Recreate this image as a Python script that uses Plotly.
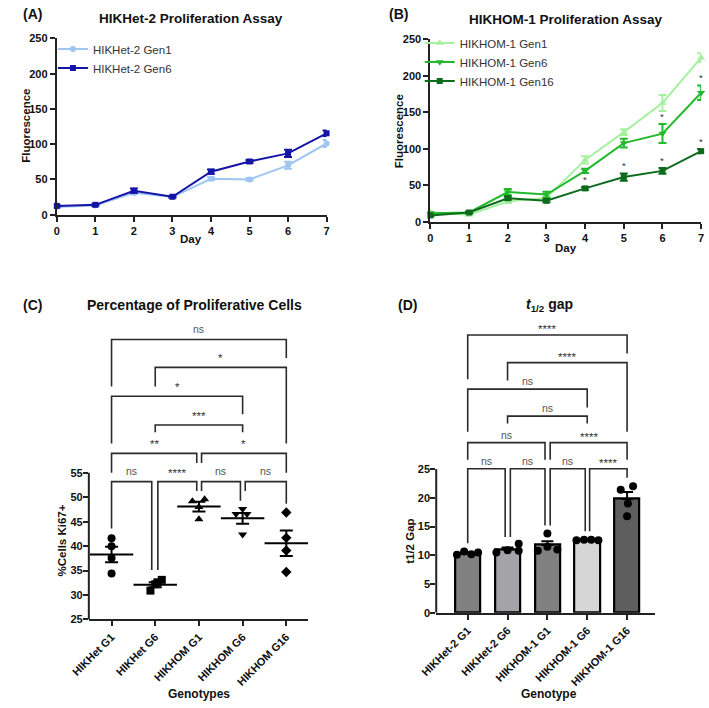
import plotly.graph_objects as go

W, H = 709, 708
FONT = "Arial, 'Liberation Sans', Helvetica, sans-serif"
INK = "#222222"

# ---------------- data ----------------
days = [0, 1, 2, 3, 4, 5, 6, 7]
het_gen1 = [11, 13, 31, 25, 51, 50, 70, 101]
het_gen1_err = [1, 1, 2, 1, 2, 2, 5, 5]
het_gen6 = [12.5, 14, 34, 25.5, 61, 75.5, 87, 115.5]
het_gen6_err = [1, 1, 3, 1, 3, 2, 5, 4]

hom_gen1 = [13, 10, 28, 33, 85, 123, 163, 225]
hom_gen1_err = [1, 1, 2, 2, 5, 4, 11, 6]
hom_gen6 = [12, 13, 41, 37.5, 70, 108, 121, 177]
hom_gen6_err = [1, 1, 4, 4, 3, 6, 13, 10]
hom_gen16 = [9, 13, 32.5, 29, 46, 61.5, 70, 97]
hom_gen16_err = [1, 1, 2, 2, 2, 5, 4, 3]
star_gen16_days = [4, 5, 6, 7]
star_gen6_days = [6, 7]

c_labels = ["HIKHet G1", "HIKHet G6", "HIKHOM G1", "HIKHOM G6", "HIKHOM G16"]
c_points = [[41.6, 40.0, 37.6, 34.4],
            [30.9, 32.2, 32.6, 33.1],
            [49.2, 49.6, 48.0, 45.5],
            [47.6, 46.6, 46.6, 42.4],
            [46.9, 41.7, 39.1, 34.7]]
c_offsets = [[0, 0, 0, 0],
             [-0.11, 0, 0.05, 0.15],
             [-0.15, 0.13, 0, 0],
             [0, -0.15, 0.1, 0],
             [0, 0, 0, 0]]
c_mean = [38.3, 32.1, 48.1, 45.7, 40.6]
c_sem = [1.6, 0.5, 1.0, 1.1, 2.6]
c_symbols = ["circle", "square", "triangle-up", "triangle-down", "diamond"]
# brackets: x0, x1, level, left leg bottom, right leg bottom, label
c_brackets = [
    (0, 0.92, 53.2, 43.6, 35.1, "ns"),
    (1.06, 1.95, 53.2, 35.1, 51.3, "****"),
    (2.06, 2.95, 53.2, 51.3, 49.3, "ns"),
    (3.06, 4.0, 53.2, 51.3, 48.7, "ns"),
    (0, 1.95, 59.0, 55.0, 57.0, "**"),
    (2.06, 4.0, 59.0, 57.0, 55.0, "*"),
    (1, 3, 64.8, 63.3, 63.3, "***"),
    (0, 3, 70.7, 61.0, 67.0, "*"),
    (1, 4, 76.6, 72.7, 61.0, "*"),
    (0, 4, 82.3, 72.7, 78.5, "ns"),
]

d_labels = ["HIKHet-2 G1", "HIKHet-2 G6", "HIKHOM-1 G1", "HIKHOM-1 G6", "HIKHOM-1 G16"]
d_mean = [10.4, 11.0, 11.8, 12.7, 19.8]
d_sem = [0.15, 0.35, 0.65, 0.05, 1.2]
d_points = [[10.1, 10.65, 10.2, 10.5],
            [10.5, 10.9, 12.0, 10.8],
            [10.8, 13.8, 11.5, 11.0],
            [12.6, 12.7, 12.7, 12.6],
            [21.4, 22.0, 19.0, 16.8]]
d_offsets = [[-0.27, -0.09, 0.09, 0.26],
             [-0.28, 0, 0.28, 0.28],
             [-0.24, 0, 0, 0.25],
             [-0.27, -0.08, 0.1, 0.28],
             [-0.16, 0.15, 0.02, 0]]
d_colors = ["#808080", "#a4a4a8", "#808080", "#d6d6d6", "#5e5e5e"]
d_brackets = [
    (0, 0.94, 25.06, 12.1, 13.2, "ns"),
    (1.07, 1.94, 25.06, 13.2, 15.2, "ns"),
    (2.07, 2.95, 25.06, 15.2, 14.2, "ns"),
    (3.06, 4.0, 25.06, 14.2, 23.5, "****"),
    (0, 1.94, 29.6, 26.6, 26.6, "ns"),
    (2.07, 4.0, 29.6, 26.6, 26.6, "****"),
    (1, 3, 34.2, 32.9, 32.9, "ns"),
    (0, 3, 38.9, 31.5, 35.7, "ns"),
    (1, 4, 43.5, 40.4, 31.5, "****"),
    (0, 4, 48.3, 40.6, 45.1, "****"),
]


def px(x):
    return x / W


def py(y):
    return 1 - y / H


fig = go.Figure()


def line_trace(x, y, err, name, color, symbol, size, xa, ya, legend):
    fig.add_trace(go.Scatter(
        x=x, y=y, name=name, mode="lines+markers",
        line=dict(color=color, width=2),
        marker=dict(symbol=symbol, size=size, color=color),
        error_y=dict(type="data", array=err, color=color, thickness=2, width=4),
        xaxis=xa, yaxis=ya, legend=legend, cliponaxis=False))


# Panel A
line_trace(days, het_gen1, het_gen1_err, "HIKHet-2 Gen1", "#9fc6f2", "circle", 6, "x", "y", "legend")
line_trace(days, het_gen6, het_gen6_err, "HIKHet-2 Gen6", "#1414a8", "square", 6, "x", "y", "legend")
# Panel B
line_trace(days, hom_gen1, hom_gen1_err, "HIKHOM-1 Gen1", "#a6f0a0", "triangle-up", 7, "x2", "y2", "legend2")
line_trace(days, hom_gen6, hom_gen6_err, "HIKHOM-1 Gen6", "#22b92c", "triangle-down", 7, "x2", "y2", "legend2")
line_trace(days, hom_gen16, hom_gen16_err, "HIKHOM-1 Gen16", "#0d6b1c", "square", 6, "x2", "y2", "legend2")

# Panel C: scatter dots with mean +/- SEM
for i in range(5):
    fig.add_trace(go.Scatter(
        x=[i + o for o in c_offsets[i]], y=c_points[i], mode="markers",
        marker=dict(symbol=c_symbols[i], size=8, color="black"),
        xaxis="x3", yaxis="y3", showlegend=False, cliponaxis=False))
fig.add_trace(go.Scatter(
    x=list(range(5)), y=c_mean, mode="markers",
    marker=dict(symbol="line-ew", size=31, line=dict(width=2, color="black")),
    error_y=dict(type="data", array=c_sem, color="black", thickness=2, width=6.5),
    xaxis="x3", yaxis="y3", showlegend=False, cliponaxis=False))

# Panel D: bars with SEM and points
fig.add_trace(go.Bar(
    x=list(range(5)), y=d_mean, width=0.63,
    marker=dict(color=d_colors, line=dict(color="black", width=2.2)),
    error_y=dict(type="data", array=d_sem, arrayminus=[0] * 5, symmetric=False,
                 color="black", thickness=2, width=6),
    xaxis="x4", yaxis="y4", showlegend=False))
for i in range(5):
    fig.add_trace(go.Scatter(
        x=[i + o for o in d_offsets[i]], y=d_points[i], mode="markers",
        marker=dict(symbol="circle", size=8, color="black"),
        xaxis="x4", yaxis="y4", showlegend=False, cliponaxis=False))

tickfont = dict(family=FONT, size=11, color="#111", weight="bold")
axbase = dict(showgrid=False, zeroline=False, showline=True, linecolor=INK, linewidth=2,
              ticks="outside", ticklen=5, tickwidth=2, tickcolor=INK, tickfont=tickfont)

layout = dict(
    width=W, height=H, margin=dict(l=0, r=0, t=0, b=0),
    paper_bgcolor="white", plot_bgcolor="white",
    font=dict(family=FONT, color=INK),
    xaxis=dict(axbase, domain=[px(40), px(318)], range=[0, 7], tickvals=days, anchor="y"),
    yaxis=dict(axbase, domain=[py(212.3), py(33)], range=[0, 250], tickvals=[0, 50, 100, 150, 200, 250], anchor="x"),
    xaxis2=dict(axbase, domain=[px(425), px(704)], range=[0, 7], tickvals=days, anchor="y2"),
    yaxis2=dict(axbase, domain=[py(219.7), py(34)], range=[0, 250], tickvals=[0, 50, 100, 150, 200, 250], anchor="x2"),
    xaxis3=dict(axbase, domain=[px(73), px(299)], range=[-0.52, 4.5], tickvals=list(range(5)),
                ticktext=c_labels, tickangle=-45, anchor="y3"),
    yaxis3=dict(axbase, domain=[py(624), py(315.9)], range=[25, 87], tickvals=[25, 30, 35, 40, 45, 50, 55],
                showline=False, anchor="x3", ticklabelstandoff=-2),
    xaxis4=dict(axbase, domain=[px(431), px(656)], range=[-0.79, 4.69], tickvals=list(range(5)),
                ticktext=d_labels, tickangle=-45, anchor="y4"),
    yaxis4=dict(axbase, domain=[py(617.3), py(318.9)], range=[0, 51], tickvals=[0, 5, 10, 15, 20, 25],
                showline=False, anchor="x4", ticklabelstandoff=-2),
    legend=dict(x=px(36), y=py(29), xanchor="left", yanchor="top", bgcolor="rgba(0,0,0,0)",
                font=dict(family=FONT, size=11.5, color="#333"), tracegroupgap=0),
    legend2=dict(x=px(414), y=py(23), xanchor="left", yanchor="top", bgcolor="rgba(0,0,0,0)",
                 font=dict(family=FONT, size=11.5, color="#333"), tracegroupgap=0),
    bargap=0,
)
fig.update_layout(**layout)

shapes = []
# manual y-axis lines for C and D (only over the tick range)
shapes.append(dict(type="line", xref="x3 domain", yref="y3", x0=0, x1=0, y0=25, y1=55,
                   line=dict(color=INK, width=2)))
shapes.append(dict(type="line", xref="x4 domain", yref="y4", x0=0, x1=0, y0=0, y1=25,
                   line=dict(color=INK, width=2)))

annotations = []


def add_brackets(brackets, xa, ya, shift_ns, shift_star):
    for x0, x1, lev, b0, b1, lab in brackets:
        shapes.append(dict(type="path", xref=xa, yref=ya,
                           path=f"M {x0},{b0} L {x0},{lev} L {x1},{lev} L {x1},{b1}",
                           line=dict(color="#2a2a2a", width=1.6)))
        is_ns = lab == "ns"
        annotations.append(dict(
            x=(x0 + x1) / 2, y=lev, xref=xa, yref=ya, text=lab, showarrow=False,
            yanchor="middle", yshift=shift_ns if is_ns else shift_star,
            font=dict(family=FONT, size=10.5 if is_ns else 11.5, color="#555" if is_ns else "#333")))


add_brackets(c_brackets, "x3", "y3", 11, 9)
add_brackets(d_brackets, "x4", "y4", 8, 6)

# significance stars in panel B
for d in star_gen16_days:
    annotations.append(dict(x=d, y=hom_gen16[d] + hom_gen16_err[d], xref="x2", yref="y2",
                            text="*", showarrow=False, yanchor="bottom", yshift=0,
                            font=dict(family=FONT, size=9.5, color="#333")))
for d in star_gen6_days:
    annotations.append(dict(x=d, y=hom_gen6[d] + hom_gen6_err[d], xref="x2", yref="y2",
                            text="*", showarrow=False, yanchor="bottom", yshift=0,
                            font=dict(family=FONT, size=9.5, color="#333")))


def text(x, y, t, size, anchor="center", angle=0, bold=True, color="#111"):
    annotations.append(dict(x=px(x), y=py(y), xref="paper", yref="paper", text=t,
                            showarrow=False, xanchor=anchor, yanchor="middle", textangle=angle,
                            font=dict(family=FONT, size=size, color=color,
                                      weight="bold" if bold else "normal")))


text(3, 8, "(A)", 14, anchor="left")
text(380, 8, "(B)", 14, anchor="left")
text(3, 304, "(C)", 14, anchor="left")
text(390, 304, "(D)", 14, anchor="left")
text(178, 13, "HIKHet-2 Proliferation Assay", 13.5)
text(565, 14, "HIKHOM-1 Proliferation Assay", 13.5)
text(182, 304, "Percentage of Proliferative Cells", 14)
text(548, 304, "<i>t</i><sub>1/2</sub> gap", 14)
text(8, 122, "Fluorescence", 11.5, angle=-90)
text(392, 127, "Fluorescence", 11.5, angle=-90)
text(178, 237, "Day", 11.5)
text(565, 246, "Day", 11.5)
text(45, 544, "%Cells Ki67+", 11.5, angle=-90)
text(404, 545, "t1/2 Gap", 11.5, angle=-90)
text(187, 700, "Genotypes", 12)
text(547, 700, "Genotype", 12)

fig.update_layout(shapes=shapes, annotations=annotations)
fig.write_html("out.html")
